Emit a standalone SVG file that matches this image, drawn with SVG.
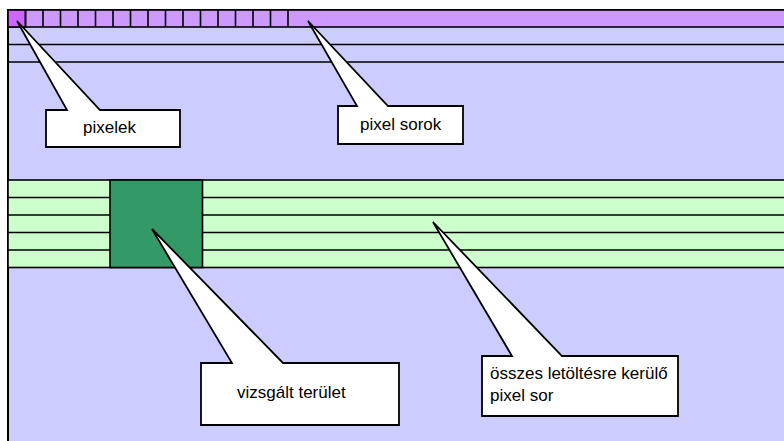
<svg xmlns="http://www.w3.org/2000/svg" width="784" height="441" viewBox="0 0 784 441">
<style>
.ln{stroke:#000;stroke-width:1.6;fill:none}
.cell{fill:#cc99ff;stroke:#000;stroke-width:1.6}
.band{fill:#ccffcc;stroke:#000;stroke-width:1.6}
.call{fill:#fff;stroke:#000;stroke-width:1.8;stroke-linejoin:miter}
.t{font-family:"Liberation Sans",Arial,sans-serif;font-size:17px;fill:#000}
</style>
<rect width="784" height="441" fill="#fff"/>
<g id="canvas">
<rect x="8" y="10" width="800" height="450" fill="#ccccff" stroke="#000" stroke-width="2"/>
<rect x="8" y="10" width="800" height="17" class="cell"/>
<rect x="8" y="10" width="17.5" height="17" fill="#cc66ff" stroke="#000" stroke-width="1.6"/>
<path class="ln" d="M25.5 10V27M43 10V27M60.5 10V27M78 10V27M95.5 10V27M113 10V27M130.5 10V27M148 10V27M165.5 10V27M183 10V27M200.5 10V27M218 10V27M235.5 10V27M253 10V27M270.5 10V27M288 10V27"/>
<path class="ln" d="M8 44.5H784M8 62H784"/>
<rect x="8" y="180" width="800" height="87.5" class="band"/>
<path class="ln" d="M8 197.5H784M8 215H784M8 232.5H784M8 250H784"/>
<rect x="110" y="180" width="92.5" height="87.5" fill="#339966" stroke="#000" stroke-width="1.6"/>
</g>
<g id="connectors"></g>
<g id="callout-pixelek">
<path class="call" d="M46 110H67L17 21L100 110H180V147H46Z"/>
<text class="t" x="83" y="133">pixelek</text>
</g>
<g id="callout-pixel-sorok">
<path class="call" d="M338 106H357L308 21L388 106H463V144H338Z"/>
<text class="t" x="360" y="130">pixel sorok</text>
</g>
<g id="callout-vizsgalt">
<path class="call" d="M201 363H232L152 229L283 363H399V425H201Z"/>
<text class="t" x="237" y="398">vizsgált terület</text>
</g>
<g id="callout-osszes">
<path class="call" d="M482 356H512L433 222L562 356H678V416H482Z"/>
<text class="t" x="490" y="379">összes letöltésre kerülő</text>
<text class="t" x="490" y="401">pixel sor</text>
</g>
</svg>
